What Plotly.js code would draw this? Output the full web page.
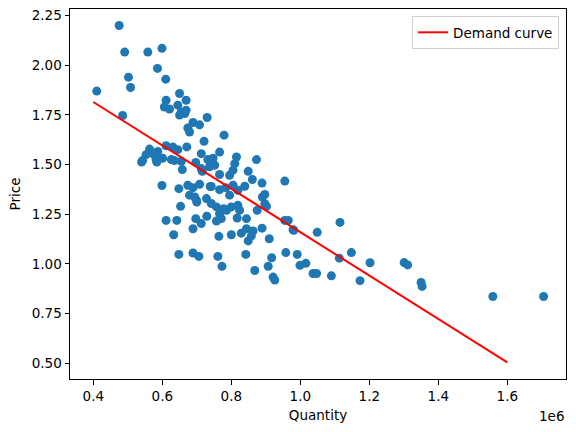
<!DOCTYPE html>
<html>
<head>
<meta charset="utf-8">
<script src="https://cdn.plot.ly/plotly-3.0.1.min.js"></script>
<style>
  html, body { margin:0; padding:0; background:#fff; }
  #chart { width:576px; height:432px; }
</style>
</head>
<body>
<div id="chart"></div>
<script>
// quantity (millions) and price
const qty = [
  0.41,0.475,0.491,0.485,0.502,0.508,0.558,0.599,0.586,0.610,
  0.65,0.611,0.669,0.606,0.621,0.645,0.655,0.669,0.65,0.665,
  0.73,0.689,0.708,0.674,0.679,0.779,0.721,0.671,0.713,0.766,
  0.563,0.587,0.611,0.631,0.645,0.553,0.543,0.582,0.601,0.626,
  0.655,0.575,0.697,0.732,0.747,0.752,0.737,0.815,0.81,0.805,
  0.795,0.873,0.658,0.716,0.766,0.849,0.861,0.839,0.889,0.955,
  0.599,0.648,0.674,0.689,0.708,0.739,0.766,0.784,0.805,0.819,
  0.795,0.694,0.700,0.728,0.742,0.757,0.766,0.778,0.786,0.80,
  0.819,0.824,0.897,0.890,0.897,0.902,0.875,0.653,0.611,0.642,
  0.697,0.729,0.757,0.771,0.817,0.844,0.689,0.713,0.633,0.764,
  0.80,0.829,0.844,0.863,0.858,0.849,0.889,0.91,0.955,0.965,
  0.979,0.648,0.689,0.706,0.761,0.773,0.842,0.868,0.917,0.907,
  0.921,0.926,0.958,0.991,0.999,1.016,1.037,1.047,1.049,1.115,
  0.981,1.09,1.113,1.148,1.202,1.173,1.301,1.311,1.35,1.353,
  1.558,1.705,0.54,0.584,0.635,0.713,0.742,0.699,0.679,0.715
];
const price = [
  1.87,2.20,2.066,1.747,1.94,1.888,2.066,2.085,1.984,1.930,
  1.858,1.824,1.824,1.79,1.78,1.799,1.765,1.774,1.749,1.757,
  1.737,1.712,1.70,1.684,1.664,1.648,1.617,1.589,1.555,1.563,
  1.578,1.566,1.595,1.588,1.575,1.55,1.52,1.525,1.532,1.525,
  1.517,1.552,1.511,1.525,1.532,1.497,1.489,1.538,1.505,1.472,
  1.446,1.525,1.475,1.466,1.45,1.466,1.425,1.391,1.407,1.417,
  1.395,1.379,1.396,1.384,1.401,1.39,1.374,1.384,1.396,1.371,
  1.346,1.337,1.312,1.329,1.304,1.287,1.253,1.278,1.27,1.287,
  1.295,1.27,1.35,1.337,1.303,1.29,1.27,1.29,1.219,1.219,
  1.228,1.24,1.216,1.228,1.231,1.228,1.177,1.203,1.147,1.139,
  1.147,1.155,1.177,1.166,1.141,1.116,1.18,1.127,1.219,1.219,
  1.172,1.048,1.055,1.038,1.038,0.988,1.048,0.967,1.031,0.988,
  0.934,0.919,1.057,1.048,0.993,1.003,0.952,0.952,1.159,1.209,
  1.169,0.94,1.029,1.057,1.006,0.916,1.007,0.995,0.907,0.887,
  0.836,0.836,1.513,1.513,1.52,1.48,1.39,1.321,1.346,1.47
];
// demand curve end points
const curveQty = [0.4, 1.6];
const curvePrice = [1.815, 0.505];

const xTicks = [0.4, 0.6, 0.8, 1.0, 1.2, 1.4, 1.6];

const FONT = 'DejaVu Sans, sans-serif';
const FS = 13.5;

const traces = [
  {
    type:'scatter', mode:'markers', x:qty.map(v=>v*1e6), y:price,
    marker:{color:'#1f77b4', size:9}, showlegend:false, hoverinfo:'x+y'
  },
  {
    type:'scatter', mode:'lines', name:'Demand curve',
    x:curveQty.map(v=>v*1e6), y:curvePrice,
    line:{color:'red', width:2}
  }
];

const axisBase = {
  showline:true, mirror:true, linecolor:'#000', linewidth:1,
  ticks:'outside', ticklen:4.5, tickcolor:'#000', tickwidth:1,
  showgrid:false, zeroline:false,
  tickfont:{family:FONT, size:FS, color:'#000'}
};

const layout = {
  width:576, height:432,
  margin:{l:70, r:10, t:9, b:53},
  paper_bgcolor:'#fff', plot_bgcolor:'#fff',
  font:{family:FONT, size:FS, color:'#000'},
  xaxis:{...axisBase, range:[0.3325e6, 1.770e6],
    tickvals:xTicks.map(v=>v*1e6), ticktext:xTicks.map(v=>v.toFixed(1)),
    title:{text:'Quantity', font:{family:FONT, size:FS}, standoff:7}},
  yaxis:{...axisBase, range:[0.421, 2.283], tick0:0.5, dtick:0.25, tickformat:'.2f',
    title:{text:'Price', font:{family:FONT, size:FS}, standoff:8}},
  legend:{x:0.986, y:0.981, xanchor:'right', yanchor:'top',
    bgcolor:'rgba(255,255,255,0.8)', bordercolor:'#d0d0d0', borderwidth:1,
    font:{family:FONT, size:FS}},
  annotations:[{text:'1e6', xref:'paper', yref:'paper', x:1, y:-0.072,
    xanchor:'right', yanchor:'top', showarrow:false, font:{family:FONT, size:FS}}]
};

Plotly.newPlot('chart', traces, layout, {displayModeBar:false, staticPlot:true});
</script>
</body>
</html>
